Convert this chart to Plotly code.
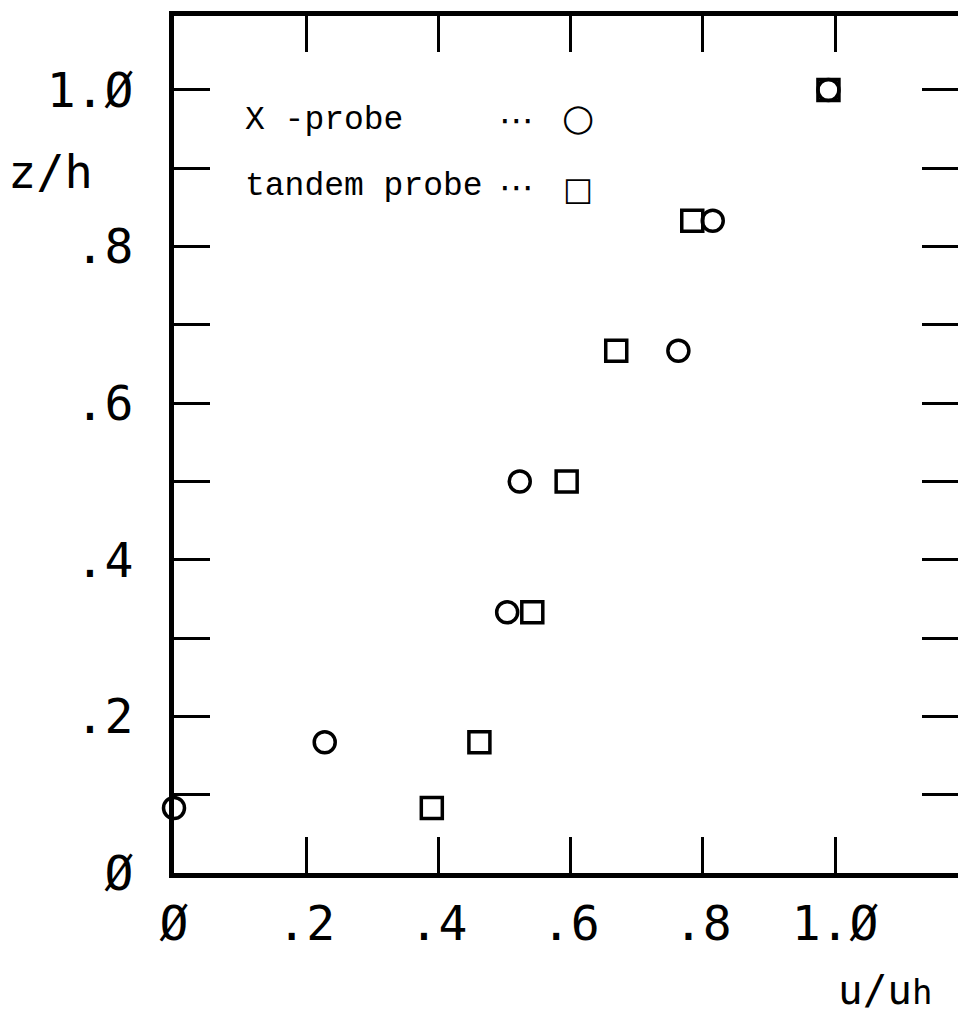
import plotly.graph_objects as go

# ---- data ----
z_over_h = [0.083, 0.167, 0.333, 0.5, 0.667, 0.833, 1.0]
u_xprobe = [0.0, 0.228, 0.504, 0.523, 0.763, 0.815, 0.99]
u_tandem = [0.39, 0.462, 0.542, 0.594, 0.669, 0.784, 0.99]

x_tickvals = [0.0, 0.2, 0.4, 0.6, 0.8, 1.0]
x_ticktext = ["Ø", ".2", ".4", ".6", ".8", "1.Ø"]
y_tickvals = [0.0, 0.1, 0.2, 0.3, 0.4, 0.5, 0.6, 0.7, 0.8, 0.9, 1.0]
y_ticktext = ["Ø", "", ".2", "", ".4", "", ".6", "", ".8", "", "1.Ø"]

legend_names = ["X -probe", "tandem probe"]
legend_glyphs = ["○", "□"]
legend_glyph_sizes = [37, 32]

W, H = 958, 1015
ML, MR, MT, MB = 174, 0, 16, 142
X_RANGE = [0, 1.186]
Y_RANGE = [0, 1.0945]

TICK_FONT = dict(family="DejaVu Sans Mono", size=48, color="black")

fig = go.Figure()
fig.add_trace(go.Scatter(
    x=u_xprobe, y=z_over_h, mode="markers", name=legend_names[0],
    marker=dict(symbol="circle-open", size=21, color="black",
                line=dict(width=3.5, color="black")),
    cliponaxis=False,
))
# second series uses the right-hand y axis (identical range) so its ticks show
fig.add_trace(go.Scatter(
    x=u_tandem, y=z_over_h, mode="markers", name=legend_names[1],
    marker=dict(symbol="square-open", size=21, color="black",
                line=dict(width=3.5, color="black")),
    cliponaxis=False, yaxis="y2",
))

tick_common = dict(
    ticks="inside", ticklen=36, tickwidth=3, tickcolor="black",
    showgrid=False, zeroline=False, tickmode="array",
)

fig.update_layout(
    width=W, height=H,
    margin=dict(l=ML, r=MR, t=MT, b=MB),
    paper_bgcolor="white", plot_bgcolor="white",
    showlegend=False,
    xaxis=dict(range=X_RANGE, tickvals=x_tickvals, ticktext=x_ticktext,
               ticklabelstandoff=4, tickfont=TICK_FONT,
               showline=True, linewidth=5, linecolor="black", mirror="ticks",
               **tick_common),
    yaxis=dict(range=Y_RANGE, tickvals=y_tickvals, ticktext=y_ticktext,
               ticklabelstandoff=26, tickfont=TICK_FONT,
               showline=True, linewidth=5, linecolor="black", mirror=False,
               **tick_common),
    # right-hand ticks only (the right border lies beyond the picture edge)
    yaxis2=dict(range=Y_RANGE, tickvals=y_tickvals, showticklabels=False,
                overlaying="y", side="right", showline=False,
                **tick_common),
)

plot_w = W - ML - MR
plot_h = H - MT - MB

def px_x(px):
    return (px - ML) / plot_w

def px_y(py):
    return (H - MB - py) / plot_h

annotations = []
# legend rows
rows_y = [120, 187]
glyph_dy = [-3, 2]
for name, glyph, gsize, ry, gdy in zip(legend_names, legend_glyphs,
                                       legend_glyph_sizes, rows_y, glyph_dy):
    annotations.append(dict(
        text=name, xref="paper", yref="paper", x=px_x(243), y=px_y(ry),
        xanchor="left", yanchor="middle", showarrow=False,
        font=dict(family="Liberation Mono", size=33, color="black")))
    annotations.append(dict(
        text="⋯", xref="paper", yref="paper", x=px_x(516), y=px_y(ry),
        xanchor="center", yanchor="middle", showarrow=False,
        font=dict(family="DejaVu Sans", size=35, color="black")))
    annotations.append(dict(
        text=glyph, xref="paper", yref="paper", x=px_x(578), y=px_y(ry + gdy),
        xanchor="center", yanchor="middle", showarrow=False,
        font=dict(family="DejaVu Sans", size=gsize, color="black")))

# axis titles
annotations.append(dict(
    text="z/h", xref="paper", yref="paper", x=px_x(6), y=px_y(172),
    xanchor="left", yanchor="middle", showarrow=False,
    font=dict(family="DejaVu Sans Mono", size=47, color="black")))
annotations.append(dict(
    text="u/u<span style='font-size:34px'>h</span>", xref="paper", yref="paper",
    x=px_x(836), y=px_y(990),
    xanchor="left", yanchor="middle", showarrow=False,
    font=dict(family="DejaVu Sans Mono", size=41, color="black")))

fig.update_layout(annotations=annotations)

fig.write_html(
    "out.html",
    config={"displayModeBar": False},
    post_script="document.body.style.margin='0';"
                "document.documentElement.style.overflow='hidden';"
                "document.body.style.overflow='hidden';",
)
